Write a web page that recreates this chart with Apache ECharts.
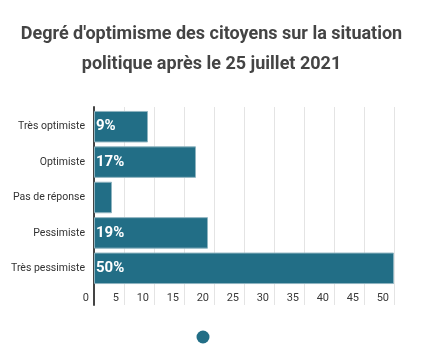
<!DOCTYPE html>
<html>
<head>
<meta charset="utf-8">
<script src="https://cdn.jsdelivr.net/npm/echarts@6/dist/echarts.min.js"></script>
<style>
html,body{margin:0;padding:0;background:#fff;}
#c{width:437px;height:356px;}
</style>
</head>
<body>
<div id="c"></div>
<script>
const titleText = "Degré d'optimisme des citoyens sur la situation\npolitique après le 25 juillet 2021";
const categories = ["Très optimiste", "Optimiste", "Pas de réponse", "Pessimiste", "Très pessimiste"];
const values = [9, 17, 3, 19, 50];
const valueLabels = ["9%", "17%", "", "19%", "50%"];
const xTicks = [0, 5, 10, 15, 20, 25, 30, 35, 40, 45, 50];

const chart = echarts.init(document.getElementById('c'), null, {renderer: 'canvas'});
const FONT = 'Roboto';
chart.setOption({
  animation: false,
  textStyle: {fontFamily: FONT},
  title: {
    text: titleText,
    left: 206.5, textAlign: 'center', top: 14,
    textStyle: {fontFamily: FONT, fontSize: 18, fontWeight: 'bold', color: '#444', lineHeight: 30}
  },
  legend: {
    data: ['Série'],
    left: 191.5, top: 325.5,
    icon: 'circle', itemWidth: 13, itemHeight: 13, itemGap: 0,
    itemStyle: {borderWidth: 0, color: '#226e86'},
    formatter: function () { return ''; },
    textStyle: {fontSize: 1}
  },
  grid: [
    {left: 94, right: 43, top: 109, height: 177},
    {left: 94, right: 43, top: 107, bottom: 51}
  ],
  xAxis: [
    {gridIndex: 0, type: 'value', min: 0, max: 50, interval: 5, show: false},
    {gridIndex: 1, type: 'value', min: 0, max: 50, interval: 5,
     axisLine: {show: false}, axisTick: {show: false},
     splitLine: {show: true, lineStyle: {color: '#e4e4e4', width: 1}},
     axisLabel: {inside: true, margin: 1, align: 'right', padding: [0, 5, 0, 0],
       color: '#3a3a3a', fontSize: 11, fontFamily: FONT,
       formatter: function (v) { return xTicks.indexOf(v) >= 0 ? String(v) : ''; }}
    }
  ],
  yAxis: [
    {gridIndex: 0, type: 'category', data: categories, inverse: true,
     axisLine: {show: false}, axisTick: {show: false},
     axisLabel: {color: '#333', fontSize: 10.5, margin: 9, fontFamily: FONT}
    },
    {gridIndex: 1, type: 'value', min: 0, max: 1,
     axisLine: {show: true, lineStyle: {color: '#444', width: 2}},
     axisTick: {show: false}, axisLabel: {show: false}, splitLine: {show: false}
    }
  ],
  series: [{
    name: 'Série',
    type: 'bar',
    xAxisIndex: 0, yAxisIndex: 0,
    data: values,
    barCategoryGap: '11%',
    itemStyle: {color: '#226e86', borderColor: '#8fb4c0', borderWidth: 1},
    label: {
      show: true, position: 'insideLeft', distance: 2,
      color: '#fff', fontSize: 15, fontWeight: 'bold', fontFamily: FONT,
      formatter: function (p) { return valueLabels[p.dataIndex]; }
    }
  }]
});
</script>
</body>
</html>
